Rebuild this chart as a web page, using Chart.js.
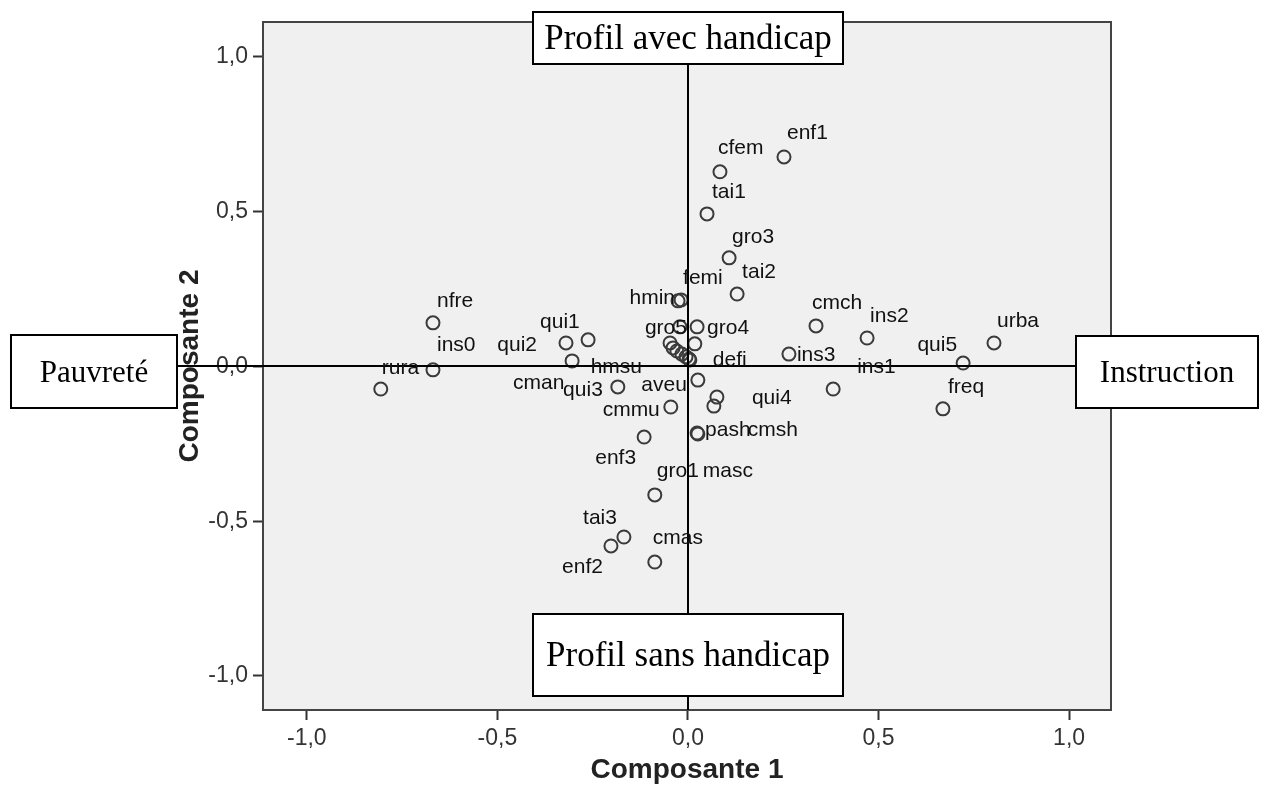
<!DOCTYPE html>
<html><head><meta charset="utf-8">
<script src="https://cdn.jsdelivr.net/npm/chart.js@4.4.1/dist/chart.umd.min.js"></script>
<style>html,body{margin:0;padding:0;background:#fff;}canvas{display:block;}</style>
</head><body>
<canvas id="c" width="1264" height="801"></canvas>
<script>
// ---- data ----
const names = ['enf1','cfem','tai1','gro3','tai2','hmin','femi','gro5','gro4','cmch','ins2','urba','qui5','ins3','ins1','freq','qui4','cmsh','pash','masc','cmmu','enf3','tai3','enf2','cmas','gro1','aveu','defi','hmsu','qui1','qui2','cman','qui3','nfre','ins0','rura','','','','','',''];
const composante1 = [0.252,0.084,0.050,0.108,0.129,-0.026,-0.018,-0.021,0.024,0.336,0.470,0.803,0.722,0.265,0.381,0.669,0.076,0.068,0.024,0.026,-0.045,-0.115,-0.168,-0.202,-0.087,-0.087,0.026,0.005,-0.047,-0.262,-0.320,-0.304,-0.184,-0.669,-0.669,-0.806,0.018,-0.039,-0.029,-0.016,-0.005,0.003];
const composante2 = [0.677,0.629,0.493,0.351,0.234,0.212,0.215,0.128,0.128,0.131,0.092,0.076,0.011,0.040,-0.073,-0.137,-0.099,-0.128,-0.215,-0.218,-0.131,-0.228,-0.551,-0.580,-0.632,-0.415,-0.044,0.021,0.076,0.086,0.076,0.018,-0.066,0.141,-0.011,-0.073,0.073,0.060,0.050,0.040,0.031,0.024];
const xTickValues = [-1.0,-0.5,0.0,0.5,1.0];
const yTickValues = [-1.0,-0.5,0.0,0.5,1.0];
const xTitle = 'Composante 1';
const yTitle = 'Composante 2';
const noteTop = 'Profil avec handicap';
const noteBottom = 'Profil sans handicap';
const noteLeft = 'Pauvreté';
const noteRight = 'Instruction';

// ---- layout of point labels (offset from marker, alignment) ----
const labelPlace = {
  enf1:[3,-24,'left'], cfem:[-2,-24,'left'], tai1:[5,-22,'left'], gro3:[3,-21,'left'], tai2:[5,-22,'left'],
  hmin:[-3,-3,'right'], femi:[2,-22,'left'], gro5:[7,1,'right'], gro4:[10,1,'left'], cmch:[-4,-23,'left'],
  ins2:[3,-22,'left'], urba:[3,-22,'left'], qui5:[-6,-18,'right'], ins3:[8,1,'left'], ins1:[24,-22,'left'],
  freq:[5,-22,'left'], qui4:[35,1,'left'], cmsh:[34,24,'left'], pash:[8,-3,'left'], masc:[5,37,'left'],
  cmmu:[-11,3,'right'], enf3:[-8,21,'right'], tai3:[-7,-19,'right'], enf2:[-8,21,'right'], cmas:[-2,-24,'left'],
  gro1:[2,-24,'left'], aveu:[-11,5,'right'], defi:[23,0,'left'], hmsu:[-28,24,'right'], qui1:[-48,-18,'left'],
  qui2:[-29,2,'right'], cman:[-59,22,'left'], qui3:[-15,3,'right'], nfre:[4,-22,'left'], ins0:[4,-25,'left'],
  rura:[1,-21,'left']
};

const fmt = v => v.toFixed(1).replace('.', ',');
const SANS = '"Liberation Sans", Arial, sans-serif';
const SERIF = '"Liberation Serif", "Times New Roman", serif';

const overlay = {
  id: 'overlay',
  beforeDraw(chart) {
    const {ctx, chartArea: a} = chart;
    ctx.save();
    ctx.fillStyle = '#f0f0f0';
    ctx.fillRect(a.left, a.top, a.right - a.left, a.bottom - a.top);
    ctx.restore();
  },
  afterDatasetsDraw(chart) {
    const {ctx, chartArea: a, scales: {x, y}} = chart;
    ctx.save();
    ctx.strokeStyle = '#444'; ctx.lineWidth = 2;
    ctx.strokeRect(a.left, a.top, a.right - a.left, a.bottom - a.top);
    const x0 = Math.round(x.getPixelForValue(0)), y0 = Math.round(y.getPixelForValue(0));
    ctx.strokeStyle = '#000'; ctx.lineWidth = 2;
    ctx.beginPath();
    ctx.moveTo(12, y0); ctx.lineTo(1256, y0);
    ctx.moveTo(x0, 12); ctx.lineTo(x0, a.bottom);
    ctx.stroke();
    ctx.font = '21px ' + SANS; ctx.fillStyle = '#111'; ctx.textBaseline = 'middle';
    chart.getDatasetMeta(0).data.forEach((pt, i) => {
      const n = names[i]; if (!n) return;
      const p = labelPlace[n] || [3, -22, 'left'];
      ctx.textAlign = p[2];
      ctx.fillText(n, pt.x + p[0], pt.y + p[1]);
    });
    const box = (t, size, l, tp, r, b) => {
      ctx.fillStyle = '#fff'; ctx.fillRect(l, tp, r - l, b - tp);
      ctx.strokeStyle = '#000'; ctx.lineWidth = 2; ctx.strokeRect(l, tp, r - l, b - tp);
      ctx.fillStyle = '#000'; ctx.font = size + 'px ' + SERIF; ctx.textAlign = 'center'; ctx.textBaseline = 'middle';
      ctx.fillText(t, (l + r) / 2, (tp + b) / 2 + 2);
    };
    box(noteTop, 35, 533, 12, 843, 64);
    box(noteBottom, 35, 533, 614, 843, 696);
    box(noteLeft, 31, 11, 335, 177, 408);
    box(noteRight, 31, 1076, 336, 1258, 408);
    ctx.restore();
  }
};

new Chart(document.getElementById('c'), {
  type: 'scatter',
  data: {
    datasets: [{
      data: composante1.map((v, i) => ({x: v, y: composante2[i]})),
      pointStyle: 'circle', pointRadius: 6.5, pointHoverRadius: 6.5,
      pointBorderWidth: 2, borderColor: '#3a3a3a', pointBorderColor: '#3a3a3a',
      pointBackgroundColor: 'rgba(0,0,0,0)', showLine: false
    }]
  },
  options: {
    responsive: false, animation: false, devicePixelRatio: 1,
    layout: {padding: {left: 0, top: 22, right: 153, bottom: 0}},
    plugins: {legend: {display: false}, tooltip: {enabled: false}},
    scales: {
      x: {
        type: 'linear', min: -1.115, max: 1.11,
        afterBuildTicks: s => { s.ticks = xTickValues.map(v => ({value: v})); },
        afterFit: s => { s.height = 91; },
        grid: {drawOnChartArea: false, drawTicks: true, tickLength: 10, tickWidth: 2, tickColor: '#333'},
        border: {display: false},
        ticks: {callback: v => fmt(v), font: {size: 23, family: SANS}, color: '#333', padding: 5, maxRotation: 0},
        title: {display: true, text: xTitle, font: {size: 28, weight: 'bold', family: SANS, lineHeight: 1.2}, color: '#222', padding: {top: 0, bottom: 14}}
      },
      y: {
        type: 'linear', min: -1.11, max: 1.113,
        afterBuildTicks: s => { s.ticks = yTickValues.map(v => ({value: v})); },
        afterFit: s => { s.width = 263; },
        grid: {drawOnChartArea: false, drawTicks: true, tickLength: 10, tickWidth: 2, tickColor: '#333'},
        border: {display: false},
        ticks: {callback: v => fmt(v), font: {size: 23, family: SANS}, color: '#333', padding: 5},
        title: {display: true, text: yTitle, font: {size: 28, weight: 'bold', family: SANS, lineHeight: 1.2}, color: '#222', padding: {top: 173, bottom: 0}}
      }
    }
  },
  plugins: [overlay]
});
</script>
</body></html>
